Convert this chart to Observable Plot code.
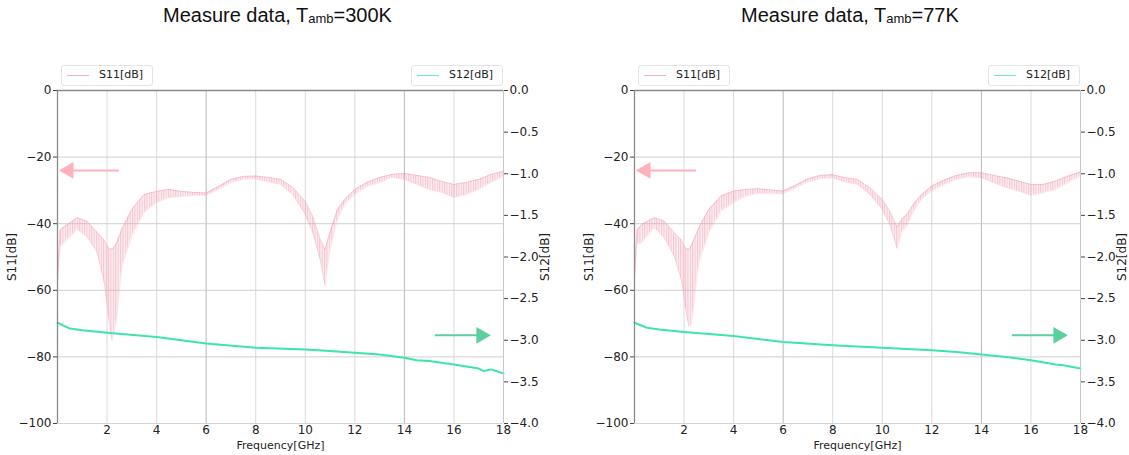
<!DOCTYPE html>
<html>
<head>
<meta charset="utf-8">
<script src="https://cdn.jsdelivr.net/npm/d3@7"></script>
<script src="https://cdn.jsdelivr.net/npm/@observablehq/plot@0.6"></script>
<style>
  html, body { margin: 0; padding: 0; background: #fff; }
  #root { position: relative; width: 1129px; height: 455px; overflow: hidden; background: #fff; }
  .title { position: absolute; top: 4px; font-family: "Liberation Sans", Arial, sans-serif; font-size: 20px; color: #111; white-space: nowrap; }
  .title sub { font-size: 13px; vertical-align: baseline; position: relative; top: 1px; }
  .panel { position: absolute; top: 40px; }
  .legend { position: absolute; height: 19px; border: 1px solid #e4e4e4; border-radius: 3px; background: rgba(255,255,255,0.8);
            font-family: "DejaVu Sans", sans-serif; font-size: 11px; color: #222; }
  .legend .ln { position: absolute; top: 9px; height: 1px; }
  .legend .tx { position: absolute; top: 2px; }
</style>
</head>
<body>
<div id="root"></div>
<script>
// ---------------- data ----------------
const xTicks = [2, 4, 6, 8, 10, 12, 14, 16, 18];
const s11Ticks = [0, -20, -40, -60, -80, -100];
const s12Ticks = [0, -0.5, -1.0, -1.5, -2.0, -2.5, -3.0, -3.5, -4.0];

// S11 envelope (ripple band) frequency grid, GHz
const s11Freq = [0, 0.1, 0.3, 0.8, 1.2, 1.6, 1.9, 2.0, 2.1, 2.2, 2.3, 2.4, 2.5, 2.6, 3.0, 3.5, 4.0, 4.5, 5.0, 5.5, 6.0, 6.5, 7.0, 7.5, 8.0, 8.5, 9.0, 9.5, 10.0, 10.3, 10.6, 10.8, 11.0, 11.3, 11.6, 12.0, 12.5, 13.0, 13.5, 14.0, 14.5, 15.0, 15.5, 16.0, 16.5, 17.0, 17.5, 18.0];

// 300 K
const s11Hi300 = [-58, -42, -40.8, -38.2, -39.3, -42.6, -45, -46.8, -47.5, -47.7, -47, -45.6, -43.5, -41.7, -35.7, -31.2, -30.3, -29.7, -30.3, -30.6, -30.8, -28.8, -26.7, -25.8, -25.7, -26.1, -26.7, -29.1, -33.3, -37.8, -44.7, -47.7, -42.6, -35.7, -32.7, -29.7, -27.6, -26.1, -25.2, -24.9, -25.5, -26.1, -27.3, -28.2, -27.6, -26.7, -25.2, -24.3];
const s11Lo300 = [-58, -47, -45.6, -41.7, -44, -48.6, -58, -64, -70, -75, -72, -68, -60, -52.8, -43.8, -36.6, -33.6, -32.2, -31.8, -31.5, -31.5, -29.7, -27.6, -26.7, -26.5, -27.5, -28.2, -31.2, -37.2, -42.6, -50.7, -58.5, -47.7, -38.7, -34.2, -31.2, -28.8, -27.6, -26.1, -26.7, -28.2, -29.7, -30.6, -32.1, -31.2, -29.7, -27.6, -25.8];
const s12Freq300 = [0, 0.5, 1, 2, 4, 6, 8, 10, 11, 12, 13, 14, 14.5, 15, 16, 17, 17.2, 17.5, 18];
const s12Val300 = [-2.79, -2.86, -2.88, -2.91, -2.96, -3.04, -3.09, -3.11, -3.13, -3.15, -3.17, -3.21, -3.24, -3.25, -3.29, -3.34, -3.37, -3.35, -3.40];

// 77 K
const s11Hi77 = [-56, -42, -40.2, -38.2, -39.2, -42.7, -45, -46.7, -47.5, -47.7, -46.5, -44.7, -43, -41.2, -35.7, -31.7, -30.2, -29.7, -29.5, -29.9, -30.2, -28.5, -26.5, -25.5, -25.3, -26.2, -26.7, -29.2, -32.7, -36.2, -41, -38.5, -37.2, -33.7, -31.2, -28.7, -26.9, -25.5, -24.7, -24.7, -25.5, -26.2, -27.2, -28.2, -28.2, -27.2, -25.7, -24.5];
const s11Lo77 = [-56, -46, -45.7, -41.2, -44.2, -49.7, -57, -62, -67, -71, -70, -64, -57, -51.7, -42.7, -36.2, -33.7, -31.7, -30.9, -30.9, -31.0, -29.3, -27.5, -26.5, -26.3, -27.5, -28.2, -31.2, -35.7, -40.2, -47.5, -42.5, -40.7, -35.7, -32.7, -30.2, -28.2, -26.7, -25.9, -26.2, -27.7, -29.2, -30.2, -31.5, -30.7, -29.7, -27.7, -25.7];
const s12Freq77 = [0, 0.5, 1, 2, 4, 6, 8, 10, 12, 13, 14, 15, 16, 17, 17.3, 18];
const s12Val77 = [-2.79, -2.85, -2.87, -2.90, -2.95, -3.02, -3.06, -3.09, -3.12, -3.14, -3.17, -3.20, -3.24, -3.29, -3.30, -3.34];

// annotation arrows: shaft start GHz, head GHz, level
const arrowS11 = { from: 2.5, to: 0.45, level: -24 };      // level in S11 dB
const arrowS12 = { from: 15.25, to: 17.1, level: -2.94 };  // level in S12 dB

// ---------------- drawing ----------------
const PINK = "#f29ab0";
const PINK_ARROW = "#ffb0ba";
const GREEN = "#3ee3b2";
const GREEN_ARROW = "#5ccf9f";
const RATIO = 25; // S11 dB per S12 dB on the shared vertical scale

function fmtRight(v) {
  const s = Math.abs(v).toFixed(1);
  return v < 0 ? "\u2212" + s : s;
}

function panel(id, left, width, marginRight, hi, lo, s12f, s12v) {
  const band = s11Freq.map((f, i) => ({ f, hi: hi[i], lo: lo[i] }));
  const s12 = s12f.map((f, i) => ({ f, v: s12v[i] * RATIO }));
  const patId = "ripple-" + id;
  const defs = () => {
    const ns = "http://www.w3.org/2000/svg";
    const d = document.createElementNS(ns, "defs");
    const p = document.createElementNS(ns, "pattern");
    p.setAttribute("id", patId);
    p.setAttribute("patternUnits", "userSpaceOnUse");
    p.setAttribute("width", "2.4");
    p.setAttribute("height", "10");
    const l = document.createElementNS(ns, "line");
    l.setAttribute("x1", "0.6"); l.setAttribute("x2", "0.6");
    l.setAttribute("y1", "0"); l.setAttribute("y2", "10");
    l.setAttribute("stroke", PINK); l.setAttribute("stroke-width", "0.8");
    p.appendChild(l); d.appendChild(p);
    return d;
  };
  const chart = Plot.plot({
    width, height: 415,
    marginTop: 50, marginBottom: 32, marginLeft: 57, marginRight,
    x: { domain: [0, 18] },
    y: { domain: [-100, 0] },
    style: { fontFamily: "DejaVu Sans, sans-serif", fontSize: "12px", color: "#222", background: "#fff", overflow: "visible" },
    marks: [
      defs,
      Plot.gridX(xTicks.filter(t => t < 18), { stroke: t => (t === 6 || t === 14) ? "#b9b9b9" : "#dadada", strokeOpacity: 1 }),
      Plot.gridY(s11Ticks.filter(t => t > -100 && t < 0), { stroke: "#d0d0d0", strokeOpacity: 1 }),
      Plot.areaY(band, { x: "f", y1: "lo", y2: "hi", fill: PINK, fillOpacity: 0.15 }),
      Plot.areaY(band, { x: "f", y1: "lo", y2: "hi", fill: `url(#${patId})`, fillOpacity: 0.75 }),
      Plot.line(band, { x: "f", y: "hi", stroke: PINK, strokeWidth: 0.8, strokeOpacity: 0.6 }),
      Plot.line(band, { x: "f", y: "lo", stroke: PINK, strokeWidth: 0.6, strokeOpacity: 0.45 }),
      Plot.line(s12, { x: "f", y: "v", stroke: GREEN, strokeWidth: 2 }),
      // frame
      Plot.ruleX([18], { stroke: "#c8c8c8" }),
      Plot.ruleY([-100], { stroke: "#d4d4d4" }),
      Plot.ruleX([0], { stroke: "#8a8a8a", strokeWidth: 1.3 }),
      Plot.ruleY([0], { stroke: "#8a8a8a", strokeWidth: 1.3 }),
      // arrows
      Plot.ruleY([arrowS11], { x1: "from", x2: "to", y: "level", stroke: PINK_ARROW, strokeWidth: 2 }),
      Plot.dot([arrowS11], { x: "to", y: "level", symbol: "triangle2", r: 8, fill: PINK_ARROW, rotate: -90 }),
      Plot.ruleY([arrowS12], { x1: "from", x2: "to", y: d => d.level * RATIO, stroke: GREEN_ARROW, strokeWidth: 2 }),
      Plot.dot([arrowS12], { x: "to", y: d => d.level * RATIO, symbol: "triangle2", r: 8, fill: GREEN_ARROW, rotate: 90 }),
      // axes
      Plot.axisX(xTicks, { tickSize: 0, tickPadding: 2, label: null, fontSize: 12 }),
      Plot.text(["Frequency[GHz]"], { frameAnchor: "bottom", dy: 25, fontSize: 11, fill: "#222" }),
      Plot.axisY(s11Ticks, { anchor: "left", tickSize: 4, tickPadding: 2, stroke: "#444", label: "S11[dB]", labelAnchor: "center", labelArrow: "none", labelOffset: 50 }),
      Plot.axisY(s12Ticks.map(v => v * RATIO), { anchor: "right", tickSize: 4, tickPadding: 2, stroke: "#444", tickFormat: v => fmtRight(v / RATIO), label: "S12[dB]", labelAnchor: "center", labelArrow: "none", labelOffset: 45 })
    ]
  });
  const div = document.createElement("div");
  div.className = "panel";
  div.style.left = left + "px";
  div.style.width = width + "px";
  div.appendChild(chart);
  return div;
}

function legend(x, y, w, color, text) {
  const el = document.createElement("div");
  el.className = "legend";
  el.style.left = x + "px"; el.style.top = y + "px"; el.style.width = w + "px";
  el.innerHTML = `<span class="ln" style="left:5px;width:22px;background:${color}"></span><span class="tx" style="left:37px">${text}</span>`;
  return el;
}

function title(x, temp) {
  const el = document.createElement("div");
  el.className = "title";
  el.style.left = x + "px";
  el.innerHTML = `Measure data, T<sub>amb</sub>=${temp}`;
  return el;
}

const root = document.getElementById("root");
root.appendChild(panel("a", 0, 565, 62, s11Hi300, s11Lo300, s12Freq300, s12Val300));
root.appendChild(panel("b", 577, 552, 49, s11Hi77, s11Lo77, s12Freq77, s12Val77));
root.appendChild(title(163, "300K"));
root.appendChild(title(741, "77K"));
root.appendChild(legend(61, 65, 90, "#f4b0c0", "S11[dB]"));
root.appendChild(legend(411, 65, 90, "#6fe6c4", "S12[dB]"));
root.appendChild(legend(638, 65, 90, "#f4b0c0", "S11[dB]"));
root.appendChild(legend(988, 65, 90, "#6fe6c4", "S12[dB]"));
</script>
</body>
</html>
